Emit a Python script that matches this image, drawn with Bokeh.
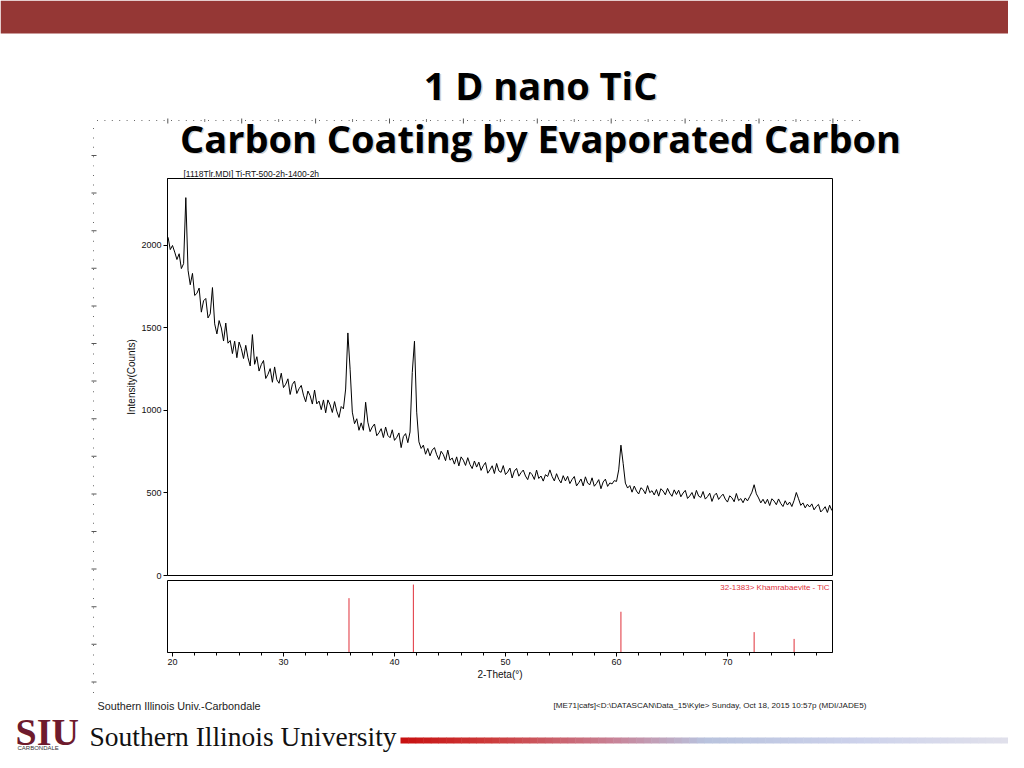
import numpy as np
from bokeh.plotting import figure
from bokeh.layouts import column, row
from bokeh.models import Range1d, FixedTicker, Label
from bokeh.core.properties import value
from bokeh.embed import file_html
from bokeh.resources import INLINE

# ---------------- data ----------------
two_theta_start = 19.6
two_theta_step = 0.2
counts = [
    2050, 1975, 2000, 1960, 1915, 1950, 1860, 1890, 2290, 1850,
    1762, 1831, 1697, 1710, 1742, 1596, 1665, 1679, 1561, 1586,
    1745, 1525, 1464, 1545, 1500, 1421, 1530, 1408, 1424, 1345,
    1420, 1320, 1415, 1375, 1315, 1395, 1320, 1270, 1460, 1280,
    1326, 1239, 1278, 1303, 1194, 1219, 1254, 1171, 1264, 1186,
    1165, 1226, 1139, 1159, 1192, 1097, 1158, 1178, 1103, 1132,
    1152, 1093, 1053, 1118, 1090, 1039, 1124, 1040, 1057, 1005,
    1064, 986, 1064, 1034, 988, 1054, 996, 958, 1024, 1010,
    1130, 1470, 1250, 990, 920, 950, 880, 925, 880, 1050,
    929, 872, 900, 918, 847, 865, 890, 836, 900, 849,
    835, 883, 819, 837, 864, 775, 842, 860, 805, 870,
    1230, 1420, 990, 810, 770, 790, 735, 770, 725, 760,
    775, 732, 703, 753, 733, 696, 760, 699, 712, 675,
    719, 664, 719, 699, 667, 714, 673, 648, 694, 657,
    687, 637, 665, 685, 620, 640, 665, 618, 679, 634,
    625, 666, 612, 627, 651, 591, 633, 649, 602, 623,
    639, 603, 581, 626, 611, 582, 639, 588, 603, 572,
    611, 600, 640, 600, 573, 617, 583, 561, 605, 573,
    601, 557, 582, 600, 543, 562, 585, 543, 598, 560,
    550, 592, 541, 558, 581, 526, 567, 584, 540, 561,
    555, 575, 570, 640, 790, 680, 560, 530, 545, 505,
    542, 512, 494, 532, 520, 495, 545, 502, 514, 488,
    521, 481, 526, 512, 489, 528, 499, 480, 519, 491,
    517, 477, 500, 516, 467, 482, 503, 466, 516, 481,
    473, 509, 463, 478, 499, 449, 485, 499, 461, 479,
    493, 463, 445, 483, 471, 447, 497, 454, 466, 441,
    470, 452, 478, 505, 550, 495, 470, 440, 462, 435,
    462, 424, 465, 451, 429, 464, 436, 418, 453, 427,
    445, 418, 455, 503, 465, 425, 440, 410, 432, 415,
    434, 398, 418, 431, 385, 399, 417, 382, 426, 394,
]
two_theta = [round(two_theta_start + two_theta_step * i, 1) for i in range(len(counts))]

ref_positions = [35.9, 41.7, 60.4, 72.4, 76.0]
ref_intensity = [80, 100, 60, 30, 20]

y_ticks = [0, 500, 1000, 1500, 2000]
x_ticks = [20, 30, 40, 50, 60, 70]
x_minor = list(range(20, 80, 2))

title_line1 = "1 D nano TiC"
title_line2 = "Carbon Coating by Evaporated Carbon"
scan_label = "[1118Tlr.MDI] Ti-RT-500-2h-1400-2h"
pdf_label = "32-1383> Khamrabaevite - TiC"
footer_left = "Southern Illinois Univ.-Carbondale"
footer_right = r"[ME71|cafs]<D:\DATASCAN\Data_15\Kyle> Sunday, Oct 18, 2015 10:57p (MDI/JADE5)"

SANS = "Liberation Sans"
SERIF = "Liberation Serif"
TITLE_FONT = "Open Sans"


def deco_fig(x0, x1, y0, y1):
    f = figure(width=int(x1 - x0), height=int(y1 - y0),
               x_range=Range1d(x0, x1), y_range=Range1d(y1, y0),
               output_backend="svg", toolbar_location=None,
               x_axis_location=None, y_axis_location=None, min_border=0)
    f.outline_line_color = None
    f.xgrid.visible = False
    f.ygrid.visible = False
    return f


ruler_v_y = np.arange(128, 700, 9.4)
ruler_v_dash = np.arange(155, 700, 37.6)

# ---------------- header ----------------
header = deco_fig(0, 1008, 0, 166)
header.quad(left=[0], right=[1008], top=[0], bottom=[33], fill_color="#953735", line_color=None)
hx = np.arange(97, 862, 7.4)
header.rect(x=hx, y=120, width=1, height=1, fill_color="#666666", line_color=None)
htk = np.arange(167.3, 862, 73.9)
header.rect(x=htk, y=120.5, width=1, height=5, fill_color="#555555", line_color=None)
header.rect(x=htk[:-1] + 36.95, y=120, width=1, height=3, fill_color="#777777", line_color=None)
header.rect(x=93, y=ruler_v_y, width=1, height=1, fill_color="#666666", line_color=None)
header.rect(x=93.5, y=ruler_v_dash, width=5, height=1, fill_color="#555555", line_color=None)
for txt, ym in [(title_line1, 84), (title_line2, 137)]:
    header.text(x=[541.5], y=[ym + 1.5], text=[txt], text_font=value(TITLE_FONT), text_font_style="bold",
                text_font_size="38px", text_align="center", text_baseline="middle",
                text_color="#8a8a8a", text_alpha=0.4)
    header.text(x=[540], y=[ym], text=[txt], text_font=value(TITLE_FONT), text_font_style="bold",
                text_font_size="38px", text_align="center", text_baseline="middle",
                text_color="#000000")

# ---------------- left ruler ----------------
left = deco_fig(0, 100, 166, 698)
left.rect(x=93, y=ruler_v_y, width=1, height=1, fill_color="#666666", line_color=None)
left.rect(x=93.5, y=ruler_v_dash, width=5, height=1, fill_color="#555555", line_color=None)

# ---------------- main chart ----------------
xr = Range1d(19.55, 79.46)
main = figure(width=908, height=414, x_range=xr, y_range=Range1d(0, 2406),
              output_backend="svg", toolbar_location=None, x_axis_location=None,
              min_border_left=67, min_border_right=176, min_border_top=12, min_border_bottom=5)
main.outline_line_color = "black"
main.outline_line_width = 1
main.grid.visible = False
main.line(two_theta, counts, line_color="black", line_width=1)
main.title.text = scan_label
main.title.align = "left"
main.title.offset = 16
main.title.standoff = 0
main.title.text_font = SANS
main.title.text_font_size = "8.5px"
main.title.text_font_style = "normal"
main.title.text_color = "#111111"
main.title.text_line_height = 1.0
ya = main.yaxis[0]
ya.ticker = FixedTicker(ticks=y_ticks, minor_ticks=[])
ya.major_tick_out = 4
ya.major_tick_in = 0
ya.minor_tick_out = 0
ya.major_label_standoff = 2
ya.major_label_text_font = SANS
ya.major_label_text_font_size = "9px"
ya.major_label_text_color = "#111111"
ya.axis_label = "Intensity(Counts)"
ya.axis_label_text_font = SANS
ya.axis_label_text_font_style = "normal"
ya.axis_label_text_font_size = "10px"
ya.axis_label_text_color = "#111111"
ya.axis_label_standoff = 1
ya.axis_line_color = "black"

# ---------------- lower (reference pattern) ----------------
low = figure(width=908, height=118, x_range=xr, y_range=Range1d(0, 106),
             output_backend="svg", toolbar_location=None, y_axis_location=None,
             min_border_left=67, min_border_right=176, min_border_top=0, min_border_bottom=46)
low.outline_line_color = "black"
low.outline_line_width = 1
low.grid.visible = False
low.segment(x0=ref_positions, y0=0, x1=ref_positions, y1=ref_intensity, line_color="#e0303a", line_width=1)
xa = low.xaxis[0]
xa.ticker = FixedTicker(ticks=x_ticks, minor_ticks=x_minor)
xa.major_tick_out = 4
xa.major_tick_in = 0
xa.minor_tick_out = 3
xa.minor_tick_in = 0
xa.major_label_standoff = 2
xa.major_label_text_font = SANS
xa.major_label_text_font_size = "9px"
xa.major_label_text_color = "#111111"
xa.axis_label = "2-Theta(°)"
xa.axis_label_text_font = SANS
xa.axis_label_text_font_style = "normal"
xa.axis_label_text_font_size = "10px"
xa.axis_label_text_color = "#111111"
xa.axis_label_standoff = 1
xa.axis_line_color = "black"
low.add_layout(Label(x=79.2, y=103, text=pdf_label, text_font=SANS, text_font_size="8px",
                     text_baseline="top", text_align="right", text_color="#e0303a"))

# ---------------- footer ----------------
footer = deco_fig(0, 1008, 698, 752)
footer.text(x=[97], y=[705], text=[footer_left], text_font=value(SANS), text_font_size="10.8px",
            text_baseline="middle", text_color="#222222")
footer.text(x=[553], y=[705], text=[footer_right], text_font=value(SANS), text_font_size="8.1px",
            text_baseline="middle", text_color="#222222")
footer.text(x=[15], y=[731], text=["SIU"], text_font=value(SERIF), text_font_style="bold",
            text_font_size="38px", text_baseline="middle", text_color="#6e1b2d")
footer.text(x=[17], y=[747.5], text=["CARBONDALE"], text_font=value(SANS), text_font_size="6px",
            text_baseline="middle", text_color="#333333")
footer.text(x=[89], y=[736], text=["Southern Illinois University"], text_font=value(SERIF),
            text_font_size="27.5px", text_baseline="middle", text_color="#111111")
# gradient rule
stops = np.array([[0.0, 200, 16, 16], [0.15, 205, 60, 60], [0.35, 200, 130, 150],
                  [0.5, 185, 195, 222], [0.75, 205, 210, 235], [1.0, 225, 225, 236]])
nseg = 80
gx0, gx1 = 400, 1008
segx = np.linspace(gx0, gx1, nseg + 1)
cols = []
for i in range(nseg):
    t = (i + 0.5) / nseg
    c = [int(np.interp(t, stops[:, 0], stops[:, k])) for k in (1, 2, 3)]
    cols.append("#%02x%02x%02x" % tuple(c))
footer.quad(left=segx[:-1], right=segx[1:] + 0.5, top=737, bottom=743, fill_color=cols, line_color=None)

layout = column(header, row(left, column(main, low, spacing=0), spacing=0), footer, spacing=0)
open("out.html", "w").write(file_html(layout, INLINE))
